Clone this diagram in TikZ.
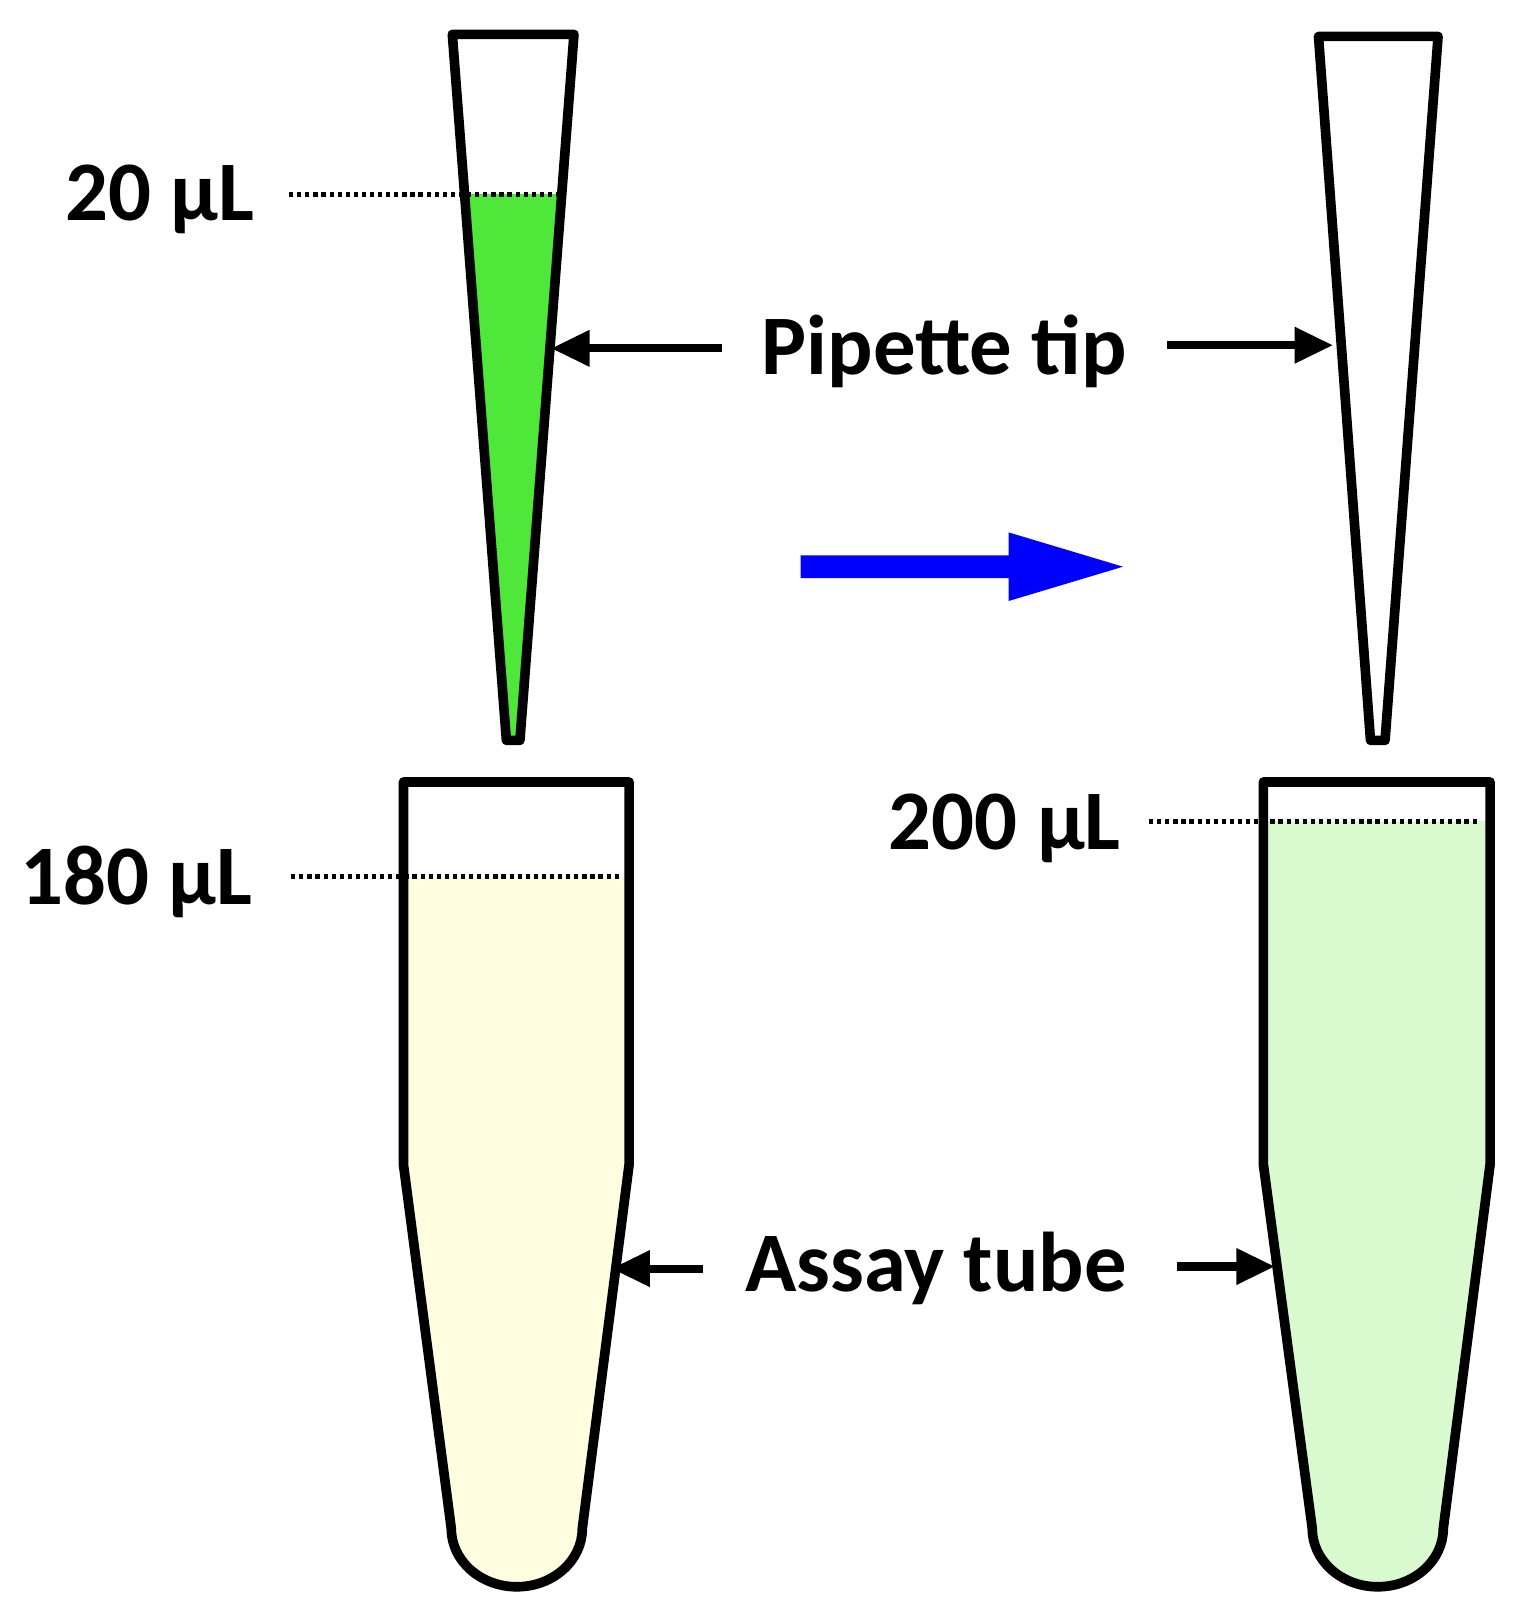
\documentclass[tikz,border=0pt]{standalone}
\usepackage{fontspec}
\setmainfont{Carlito}
\usetikzlibrary{arrows.meta}
\definecolor{tipgreen}{HTML}{4FE83A}
\definecolor{yel}{HTML}{FEFDE0}
\definecolor{lgreen}{HTML}{D9F9CE}
\tikzset{
 outline/.style={draw=black,line width=5pt,line join=round},
 level/.style={dotted,line width=2.2pt},
 lbl/.style={font=\bfseries\fontsize{44}{50}\selectfont,inner sep=0pt},
 pointer/.style={line width=4.2pt,-{Triangle[length=20pt,width=18pt]}},
}
\begin{document}
\begin{tikzpicture}[x=0.54pt,y=-0.54pt]
\useasboundingbox (0,0) rectangle (1470,1557);
% tips
\def\tipL{(435,33) -- (552,33) -- (500,712) -- (487,712) -- cycle}
\begin{scope}\clip \tipL; \fill[tipgreen] (400,187) rectangle (600,720);\end{scope}
\draw[outline] \tipL;
\def\tipR{(1268,35) -- (1383,35) -- (1332,712) -- (1318,712) -- cycle}
\draw[outline] \tipR;
% tubes
\def\tubeL{(388,752) -- (605,752) -- (605,1120) -- (560,1470) arc[start angle=0,end angle=180,x radius=63,y radius=56] -- (388,1120) -- cycle}
\begin{scope}\clip \tubeL; \fill[yel] (380,843) rectangle (620,1540);\end{scope}
\draw[outline] \tubeL;
\def\tubeR{(1215,752) -- (1433,752) -- (1433,1120) -- (1388,1470) arc[start angle=0,end angle=180,x radius=63,y radius=56] -- (1215,1120) -- cycle}
\begin{scope}\clip \tubeR; \fill[lgreen] (1200,790) rectangle (1450,1540);\end{scope}
\draw[outline] \tubeR;
% levels
\coordinate (l20a) at (278,187); \coordinate (l20b) at (540,187);
\draw[level] (l20a) -- (l20b);
\coordinate (l180a) at (280,843); \coordinate (l180b) at (597,843);
\draw[level] (l180a) -- (l180b);
\coordinate (l200a) at (1105,790); \coordinate (l200b) at (1422,790);
\draw[level] (l200a) -- (l200b);
\node[lbl,anchor=east] (t20) at (245,192) {20 µL};
\node[lbl,anchor=east] (t180) at (243,848) {180 µL};
\node[lbl,anchor=east] (t200) at (1078,797) {200 µL};
% labels and pointers
\node[lbl] (pip) at (908,338) {Pipette tip};
\coordinate (pl) at (530,335); \coordinate (pr) at (1282,332);
\draw[pointer] (pip.west)++(-38,-3) -- (pl);
\draw[pointer] (pip.east)++(38,-6) -- (pr);
\node[lbl] (assay) at (900,1220) {Assay tube};
\coordinate (al) at (588,1220); \coordinate (ar) at (1226,1218);
\draw[pointer] (assay.west)++(-40,0) -- (al);
\draw[pointer] (assay.east)++(48,-2) -- (ar);
% blue arrow
\fill[blue] (770,534) -- (970,534) -- (970,512) -- (1080,545) -- (970,578) -- (970,556) -- (770,556) -- cycle;
\end{tikzpicture}
\end{document}
